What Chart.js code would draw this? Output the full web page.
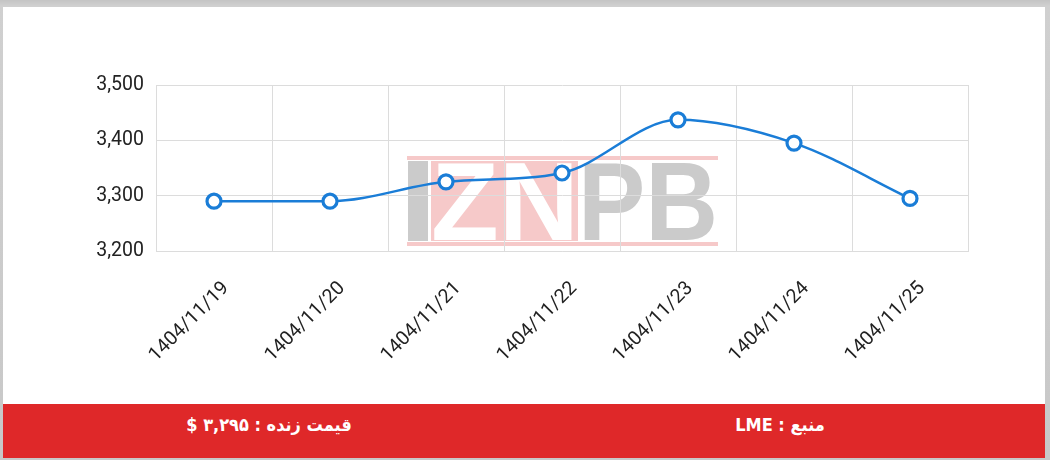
<!DOCTYPE html>
<html>
<head>
<meta charset="utf-8">
<script src="https://cdn.jsdelivr.net/npm/chart.js@4.4.1/dist/chart.umd.min.js"></script>
<style>
  html,body{margin:0;padding:0;}
  body{width:1050px;height:460px;position:relative;overflow:hidden;
       background:linear-gradient(#c4c4c4,#d0d0d0 6px,#c8c8c8);}
  #panel{position:absolute;left:3px;top:7px;width:1042px;height:451px;background:#fff;}
  #wrap{position:absolute;left:0;top:0;width:1050px;height:404px;}
  .wm{position:absolute;}
  .wmt{position:absolute;font-family:"Liberation Sans",Arial,sans-serif;font-weight:bold;
       font-size:112px;line-height:112px;white-space:nowrap;transform-origin:0 0;}
  #footer{position:absolute;left:3px;top:404px;width:1042px;height:54px;background:#DF2829;}
  .ft{position:absolute;top:0;height:42px;line-height:42px;color:#fff;
      font-family:"DejaVu Sans Condensed","DejaVu Sans",sans-serif;font-size:18px;font-weight:bold;direction:rtl;
      text-align:center;width:300px;}
</style>
</head>
<body>
<div id="panel"></div>
<!-- watermark -->
<div class="wm" style="left:407px;top:156px;width:311px;height:4px;background:#F6C9C9"></div>
<div class="wm" style="left:407px;top:242px;width:311px;height:4px;background:#F6C9C9"></div>
<div class="wm" style="left:408px;top:161px;width:20px;height:80px;background:#CBCBCB"></div>
<div class="wm" style="left:431px;top:161px;width:147px;height:80px;background:#F6C9C9;overflow:hidden">
  <div class="wmt" style="left:0;top:-15px;color:#fff;transform:scaleX(0.99)">ZN</div>
</div>
<div class="wmt" style="left:578px;top:146px;color:#CBCBCB;transform:scaleX(0.9)">PB</div>
<div id="wrap"><canvas id="c" width="1050" height="404"></canvas></div>
<div id="footer">
  <div class="ft" style="left:116px">قیمت زنده : ۳,۲۹۵ $</div>
  <div class="ft" style="left:627px">منبع : LME</div>
</div>
<script>
const categories = ["1404/11/19","1404/11/20","1404/11/21","1404/11/22","1404/11/23","1404/11/24","1404/11/25"];
const prices = [3290, 3290, 3325, 3341, 3437, 3395, 3295];
const yTicks = [3200, 3300, 3400, 3500];

new Chart(document.getElementById('c'), {
  type: 'line',
  data: {
    labels: categories,
    datasets: [{
      data: prices,
      borderColor: '#1A7DD7',
      borderWidth: 2.5,
      cubicInterpolationMode: 'monotone',
      pointRadius: 7,
      pointHoverRadius: 7,
      pointBorderWidth: 3.2,
      pointBackgroundColor: '#fff',
      pointBorderColor: '#1A7DD7',
      fill: false
    }]
  },
  options: {
    responsive: false,
    animation: false,
    devicePixelRatio: 1,
    layout: { padding: { top: 85, right: 82, left: 0, bottom: 0 } },
    plugins: { legend: { display: false }, tooltip: { enabled: false } },
    scales: {
      x: {
        offset: true,
        grid: { color: '#dcdcdc', offset: true, drawTicks: false },
        border: { color: '#dcdcdc' },
        ticks: {
          color: '#222', font: { family: 'Roboto', size: 19.5 },
          minRotation: 45, maxRotation: 45, padding: 26, labelOffset: 12
        },
        afterFit: s => { s.height = 153; }
      },
      y: {
        min: 3200, max: 3500,
        afterBuildTicks: s => { s.ticks = yTicks.map(v => ({ value: v })); },
        grid: { color: '#dcdcdc', drawTicks: false },
        border: { color: '#dcdcdc' },
        ticks: {
          color: '#222', font: { family: 'Roboto', size: 19.5 }, padding: 12,
          callback: v => v.toLocaleString('en-US')
        },
        afterFit: s => { s.width = 156; }
      }
    }
  }
});
</script>
</body>
</html>
